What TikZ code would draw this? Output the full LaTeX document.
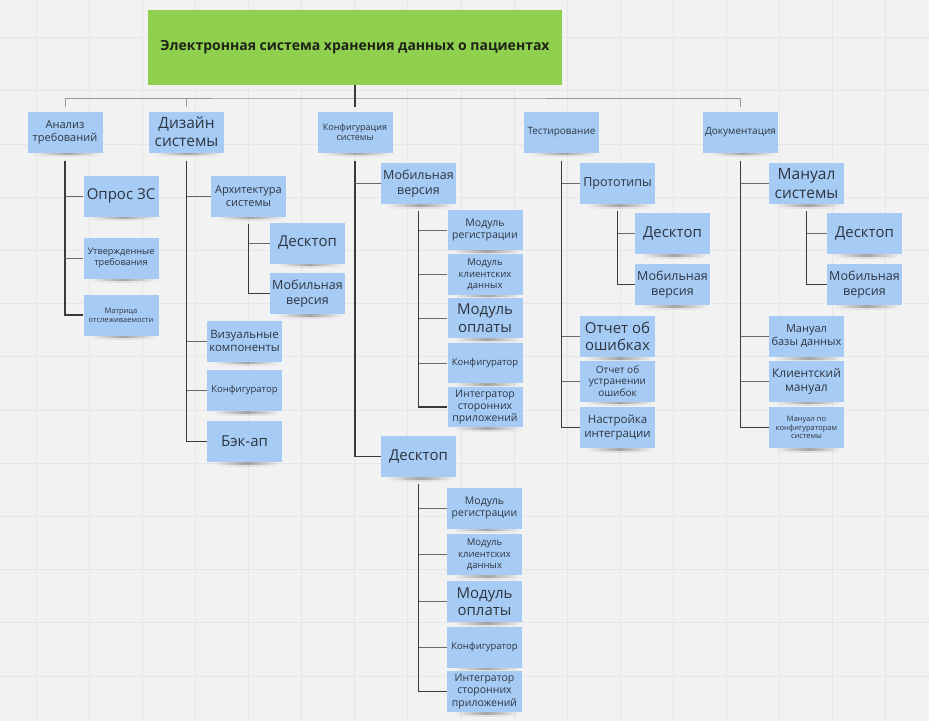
\documentclass[tikz,border=0pt]{standalone}
\usepackage{fontspec}
\setmainfont{Open Sans}
\usetikzlibrary{backgrounds,fadings}

\definecolor{boardbg}{HTML}{F2F2F2}
\definecolor{gridline}{HTML}{E6E6E6}
\definecolor{stickyblue}{HTML}{A6CCF5}
\definecolor{rootgreen}{HTML}{8FD04F}
\definecolor{inktext}{HTML}{2E3440}
\definecolor{titleink}{HTML}{1E2318}
\definecolor{linedark}{HTML}{3A3A3A}
\definecolor{linemid}{HTML}{6A6A6A}
\definecolor{linebus}{HTML}{999999}

% soft horizontal fade used for the shadow under every sticky note
\tikzfading[name=edgefade, left color=transparent!100, right color=transparent!100, middle color=transparent!0]

\begin{document}
\begin{tikzpicture}[x=1pt,y=-1pt,
  sticky/.style={fill=stickyblue, text=inktext, align=center, inner sep=1pt,
                 minimum width=75pt, minimum height=41pt},
  fz/.style={font=\fontsize{#1}{\fpeval{1.17*#1}}\selectfont},
  trunkline/.style={draw=linedark, line width=1.1pt},
  stubline/.style={draw=linemid, line width=1pt},
  busline/.style={draw=linebus, line width=1pt},
  rootbox/.style={fill=rootgreen, text=titleink, align=center,
                  minimum width=414pt, minimum height=75pt,
                  font=\fontsize{14}{17}\selectfont\bfseries}
]
\useasboundingbox (0,0) rectangle (929,721);

% ---------- root ----------
\node[rootbox] (root) at (355,47.5) {Электронная система хранения данных о пациентах};

% ---------- first level ----------
\node[sticky, fz=11]   (a1) at (65,132)    {Анализ\\требований};
\node[sticky, fz=15.5] (a2) at (186.5,132) {Дизайн\\системы};
\node[sticky, fz=9]    (a3) at (355,132)   {Конфигурация\\системы};
\node[sticky, fz=10]   (a4) at (561.5,132) {Тестирование};
\node[sticky, fz=10]   (a5) at (740.5,132) {Документация};

% ---------- requirements ----------
\node[sticky, fz=15]  (b11) at (121,196) {Опрос ЗС};
\node[sticky, fz=9.2] (b12) at (121,258) {Утвержденные\\требования};
\node[sticky, fz=7.5] (b13) at (121,315) {Матрица\\отслеживаемости};

% ---------- system design ----------
\node[sticky, fz=11]   (b21)  at (248.5,196)   {Архитектура\\системы};
\node[sticky, fz=15]   (c211) at (307.5,243)   {Десктоп};
\node[sticky, fz=12.5] (c212) at (307.5,293.5) {Мобильная\\версия};
\node[sticky, fz=11.5] (b22)  at (244.5,341)   {Визуальные\\компоненты};
\node[sticky, fz=9.5]  (b23)  at (244.5,390.5) {Конфигуратор};
\node[sticky, fz=15]   (b24)  at (244.5,441.5) {Бэк-ап};

% ---------- configuration: mobile ----------
\node[sticky, fz=12.5] (b31)  at (418.5,183.5) {Мобильная\\версия};
\node[sticky, fz=10.5, minimum height=40.5pt] (c311) at (485,230)   {Модуль\\регистрации};
\node[sticky, fz=9.5,  minimum height=40.5pt] (c312) at (485,274.5) {Модуль\\клиентских\\данных};
\node[sticky, fz=15,   minimum height=40.5pt] (c313) at (485,318)   {Модуль\\оплаты};
\node[sticky, fz=9.5,  minimum height=40.5pt] (c314) at (485,363)   {Конфигуратор};
\node[sticky, fz=10.5, minimum height=40.5pt] (c315) at (485,407)   {Интегратор\\сторонних\\приложений};

% ---------- configuration: desktop ----------
\node[sticky, fz=15] (b32) at (418.5,456.5) {Десктоп};
\node[sticky, fz=10.5] (c321) at (484.5,508)   {Модуль\\регистрации};
\node[sticky, fz=9.5]  (c322) at (484.5,554.5) {Модуль\\клиентских\\данных};
\node[sticky, fz=15]   (c323) at (484.5,601.5) {Модуль\\оплаты};
\node[sticky, fz=9.5]  (c324) at (484.5,647)   {Конфигуратор};
\node[sticky, fz=10.5] (c325) at (484.5,691.5) {Интегратор\\сторонних\\приложений};

% ---------- testing ----------
\node[sticky, fz=12.5] (b41)  at (617.5,183.5) {Прототипы};
\node[sticky, fz=15]   (c411) at (672.5,233.5) {Десктоп};
\node[sticky, fz=12.5] (c412) at (672.5,284.5) {Мобильная\\версия};
\node[sticky, fz=15]   (b42)  at (617.5,336.5) {Отчет об\\ошибках};
\node[sticky, fz=10]   (b43)  at (617.5,381)   {Отчет об\\устранении\\ошибок};
\node[sticky, fz=11.5] (b44)  at (617.5,427.5) {Настройка\\интеграции};

% ---------- documentation ----------
\node[sticky, fz=15.5] (b51)  at (806.5,183.5) {Мануал\\системы};
\node[sticky, fz=15]   (c511) at (864.5,233.5) {Десктоп};
\node[sticky, fz=12.5] (c512) at (864.5,284.5) {Мобильная\\версия};
\node[sticky, fz=11]   (b52)  at (806.5,336.5) {Мануал\\базы данных};
\node[sticky, fz=12]   (b53)  at (806.5,381)   {Клиентский\\мануал};
\node[sticky, fz=7.5]  (b54)  at (806.5,427.5) {Мануал по\\конфигураторам\\системы};

% ---------- top bus ----------
\coordinate (hub) at (355,98);
\draw[busline] ([yshift=4pt]a1.north) |- (hub) -| ([yshift=4pt]a5.north);
\draw[busline] ([yshift=4pt]a2.north) -- (a2.north |- hub);
\draw[trunkline] (root.south) -- ([yshift=4pt]a3.north);

% ---------- column trunks and stubs ----------
\coordinate (v1) at ([yshift=-8pt]a1.south);
\draw[trunkline] (v1) |- (b13.west);
\draw[stubline] (v1 |- b11.west) -- (b11.west);
\draw[stubline] (v1 |- b12.west) -- (b12.west);

\coordinate (v2) at ([yshift=-8pt]a2.south);
\draw[trunkline] (v2) |- (b24.west);
\foreach \n in {b21,b22,b23} \draw[stubline] (v2 |- \n.west) -- (\n.west);
\coordinate (v21) at ([yshift=-7pt]b21.south);
\draw[trunkline] (v21) |- (c212.west);
\draw[stubline] (v21 |- c211.west) -- (c211.west);

\coordinate (v3) at ([yshift=-8pt]a3.south);
\draw[trunkline] (v3) |- (b32.west);
\draw[stubline] (v3 |- b31.west) -- (b31.west);
\coordinate (v31) at ([yshift=-7pt]b31.south);
\draw[trunkline] (v31) |- (c315.west);
\foreach \n in {c311,c312,c313,c314} \draw[stubline] (v31 |- \n.west) -- (\n.west);
\coordinate (v32) at ([yshift=-7pt]b32.south);
\draw[trunkline] (v32) |- (c325.west);
\foreach \n in {c321,c322,c323,c324} \draw[stubline] (v32 |- \n.west) -- (\n.west);

\coordinate (v4) at ([yshift=-8pt]a4.south);
\draw[trunkline] (v4) |- (b44.west);
\foreach \n in {b41,b42,b43} \draw[stubline] (v4 |- \n.west) -- (\n.west);
\coordinate (v41) at ([yshift=-7pt]b41.south);
\draw[trunkline] (v41) |- (c412.west);
\draw[stubline] (v41 |- c411.west) -- (c411.west);

\coordinate (v5) at ([yshift=-8pt]a5.south);
\draw[trunkline] (v5) |- (b54.west);
\foreach \n in {b51,b52,b53} \draw[stubline] (v5 |- \n.west) -- (\n.west);
\coordinate (v51) at ([yshift=-7pt]b51.south);
\draw[trunkline] (v51) |- (c512.west);
\draw[stubline] (v51 |- c511.west) -- (c511.west);

% ---------- board, grid and note shadows ----------
\begin{scope}[on background layer]
  \fill[boardbg] (0,0) rectangle (929,721);
  \foreach \k in {0,...,16}
    \draw[gridline, line width=0.6pt] ({36+53.1*\k},0) -- ({36+53.1*\k},721);
  \foreach \k in {0,...,12}
    \draw[gridline, line width=0.6pt] (0,{37.4+53.2*\k}) -- (929,{37.4+53.2*\k});
  \foreach \n in {a1,a2,a3,a4,a5,b11,b12,b13,b21,c211,c212,b22,b23,b24,
                  b31,c311,c312,c313,c314,c315,b32,c321,c322,c323,c324,c325,
                  b41,c411,c412,b42,b43,b44,b51,c511,c512,b52,b53,b54}{
    \fill[black, opacity=.08, path fading=edgefade]
      ([xshift=3pt,yshift=1pt]\n.south west) rectangle ([xshift=0pt,yshift=-4.5pt]\n.south east);
    \fill[black, opacity=.26, path fading=edgefade]
      ([xshift=8pt,yshift=1pt]\n.south west) rectangle ([xshift=-4pt,yshift=-2.5pt]\n.south east);
  }
\end{scope}
\end{tikzpicture}
\end{document}
